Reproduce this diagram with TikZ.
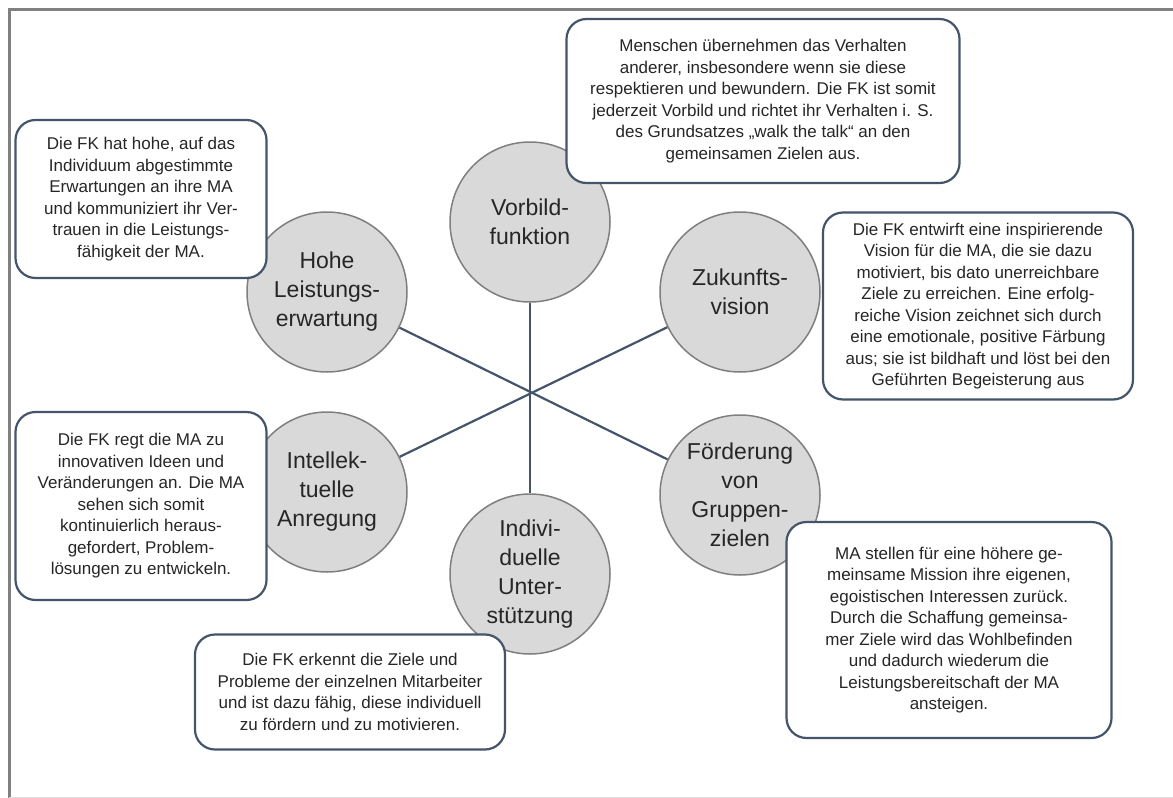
\documentclass[tikz,border=0pt]{standalone}
\usepackage{fontspec}
\setmainfont{Liberation Sans}
\definecolor{linie}{HTML}{44546A}
\definecolor{kreisrand}{HTML}{7F7F7F}
\definecolor{kreisfill}{HTML}{D9D9D9}
\definecolor{schrift}{HTML}{262626}
\definecolor{rahmen}{HTML}{808080}
\begin{document}
\begin{tikzpicture}[x=1pt, y=-1pt,
        kreis/.style={circle, draw=kreisrand, fill=kreisfill, line width=1.5pt, minimum size=160pt, inner sep=0pt, align=center, text=schrift, font=\fontsize{23}{29}\selectfont},
        kasten/.style={draw=linie, fill=white, line width=2.2pt, rounded corners=20pt, inner sep=0pt, align=center, text=schrift, font=\fontsize{17}{21.5}\selectfont},
        speiche/.style={draw=linie, line width=2.2pt}]
            \useasboundingbox (0,0) rectangle (1173,798);
            \draw [rahmen, line width=3pt] (1173,9) -- (9,9) -- (9,798);
            \draw [black!12, line width=1pt] (9,797) -- (1173,797);
            
            \node (1) [kreis] at (530,222) {Vorbild-\\funktion};
            \node (2) [kreis] at (327,292) {Hohe\\Leistungs-\\erwartung};
            \node (3) [kreis] at (327,492) {Intellek-\\tuelle\\Anregung};
            \node (4) [kreis] at (530,574) {Indivi-\\duelle\\Unter-\\stützung};
            \node (5) [kreis] at (740,495) {Förderung\\von\\Gruppen-\\zielen};
            \node (6) [kreis] at (740,292) {Zukunfts-\\vision};
            
            \draw [speiche] (1) to (4);
            \draw [speiche] (2) to (5);
            \draw [speiche] (3) to (6);
            
            \node (7) [kasten, minimum width=393pt, minimum height=164pt] at (763,101) {Menschen übernehmen das Verhalten\\anderer, insbesondere wenn sie diese\\respektieren und bewundern. Die FK ist somit\\jederzeit Vorbild und richtet ihr Verhalten i. S.\\des Grundsatzes „walk the talk“ an den\\gemeinsamen Zielen aus.};
            \node (8) [kasten, minimum width=251pt, minimum height=158pt] at (141,199) {Die FK hat hohe, auf das\\Individuum abgestimmte\\Erwartungen an ihre MA\\und kommuniziert ihr Ver-\\trauen in die Leistungs-\\fähigkeit der MA.};
            \node (9) [kasten, minimum width=310pt, minimum height=187pt] at (978,306) {Die FK entwirft eine inspirierende\\Vision für die MA, die sie dazu\\motiviert, bis dato unerreichbare\\Ziele zu erreichen. Eine erfolg-\\reiche Vision zeichnet sich durch\\eine emotionale, positive Färbung\\aus; sie ist bildhaft und löst bei den\\Geführten Begeisterung aus};
            \node (10) [kasten, minimum width=251pt, minimum height=188pt] at (141,506) {Die FK regt die MA zu\\innovativen Ideen und\\Veränderungen an. Die MA\\sehen sich somit\\kontinuierlich heraus-\\gefordert, Problem-\\lösungen zu entwickeln.};
            \node (11) [kasten, minimum width=325pt, minimum height=216pt] at (949,630) {MA stellen für eine höhere ge-\\meinsame Mission ihre eigenen,\\egoistischen Interessen zurück.\\Durch die Schaffung gemeinsa-\\mer Ziele wird das Wohlbefinden\\und dadurch wiederum die\\Leistungsbereitschaft der MA\\ansteigen.};
            \node (12) [kasten, minimum width=310pt, minimum height=115pt] at (350,692) {Die FK erkennt die Ziele und\\Probleme der einzelnen Mitarbeiter\\und ist dazu fähig, diese individuell\\zu fördern und zu motivieren.};
        \end{tikzpicture}
\end{document}
